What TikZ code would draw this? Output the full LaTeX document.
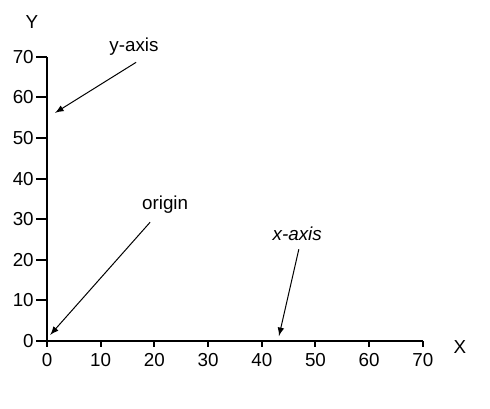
\documentclass[tikz,border=0pt]{standalone}
\usepackage{fontspec}
\setmainfont{Liberation Sans}
\usetikzlibrary{calc,arrows,positioning}

\begin{document}
\begin{tikzpicture}[x=2.685pt,y=2.03pt,font=\fontsize{9.4}{11}\selectfont,
    axisline/.style={line width=1pt},
    pointer/.style={-latex,line width=.5pt,>=latex}]

\useasboundingbox (-8.75,-16.5) rectangle (82.5,84);

%axes
\draw[axisline] (0,70) -- (0,-1.5);
\draw[axisline] (-2,0) -- (70,0);
\foreach \v in {0,10,...,70} {
  \draw[axisline] (-2,\v) -- (0,\v);
  \node[anchor=east,inner sep=0pt] (yt\v) at (-2.4,\v) {\v};
  \draw[axisline] (\v,0) -- (\v,-1.5);
  \node[inner sep=0pt] (xt\v) at (\v,-4.6) {\v};
}
\node (ylab) at (-2.8,78.6) {Y};
\node (xlab) at (76.9,-1.5) {X};

%labels and pointers
\node[inner sep=1pt] (yaxislab) at (16.2,72.4) {y-axis};
\coordinate (yaxispt) at (1.5,56.2);
\draw[pointer] ($(yaxislab.south)+(0.4,-1)$) -- (yaxispt);

\node[inner sep=1pt] (originlab) at (22,33.5) {origin};
\coordinate (originpt) at (0.6,1.5);
\draw[pointer] ($(originlab.south)+(-2.8,-1.5)$) -- (originpt);

\node[inner sep=1pt,font=\fontsize{9.4}{11}\selectfont\itshape] (xaxislab) at (46.6,26.4) {x-axis};
\coordinate (xaxispt) at (43.2,1.2);
\draw[pointer] ($(xaxislab.south)+(0.3,-1.5)$) -- (xaxispt);

\end{tikzpicture}
\end{document}
